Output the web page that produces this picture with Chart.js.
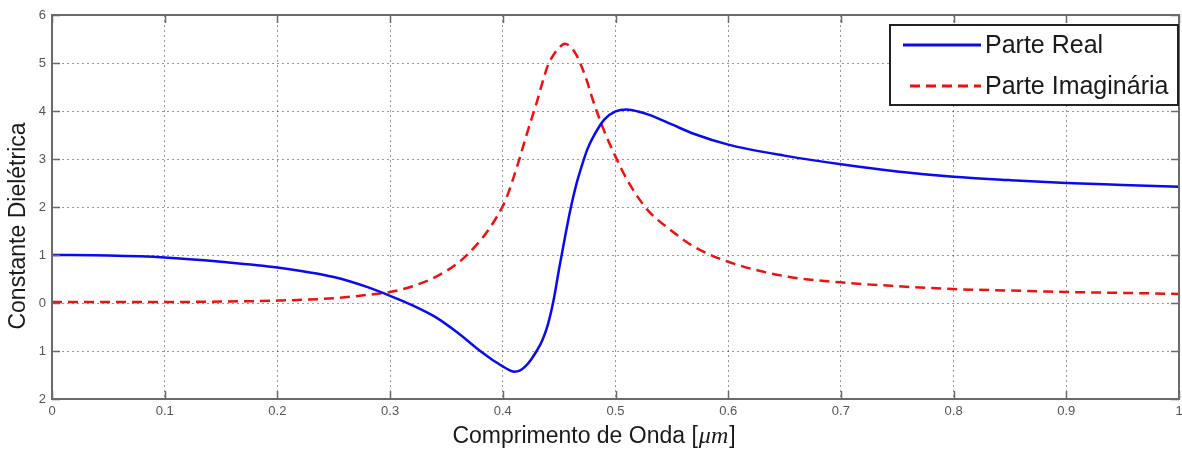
<!DOCTYPE html>
<html>
<head>
<meta charset="utf-8">
<script src="https://cdn.jsdelivr.net/npm/chart.js@4/dist/chart.umd.min.js"></script>
<style>
  html, body { margin: 0; padding: 0; background: #fff; }
  #wrap { width: 1182px; height: 452px; }
</style>
</head>
<body>
<div id="wrap"><canvas id="chart" width="1182" height="452"></canvas></div>
<script>
// wavelength samples (um)
const wavelengths = [0, 0.05, 0.1, 0.15, 0.2, 0.25, 0.28, 0.3, 0.32, 0.34, 0.36, 0.38, 0.39, 0.4, 0.405, 0.41,
  0.415, 0.42, 0.425, 0.43, 0.435, 0.44, 0.445, 0.45, 0.455, 0.46, 0.465, 0.47, 0.475, 0.48, 0.49, 0.5, 0.51,
  0.52, 0.53, 0.55, 0.57, 0.6, 0.65, 0.7, 0.75, 0.8, 0.85, 0.9, 0.95, 1];
const realPart = [1.0, 0.99, 0.95, 0.86, 0.74, 0.54, 0.33, 0.15, -0.05, -0.29, -0.62, -1.0, -1.17, -1.32, -1.39, -1.43,
  -1.41, -1.32, -1.18, -1.0, -0.78, -0.45, 0.05, 0.72, 1.35, 1.95, 2.45, 2.85, 3.2, 3.45, 3.82, 3.99, 4.03,
  3.99, 3.92, 3.72, 3.52, 3.3, 3.07, 2.89, 2.74, 2.63, 2.56, 2.5, 2.46, 2.42];
const imagPart = [0.02, 0.02, 0.02, 0.03, 0.05, 0.1, 0.17, 0.23, 0.35, 0.54, 0.83, 1.3, 1.62, 2.02, 2.3, 2.65,
  3.02, 3.42, 3.8, 4.17, 4.58, 4.95, 5.17, 5.32, 5.4, 5.34, 5.18, 4.92, 4.6, 4.22, 3.58, 3.05, 2.58,
  2.2, 1.9, 1.5, 1.17, 0.86, 0.56, 0.43, 0.35, 0.29, 0.26, 0.23, 0.21, 0.19];

const seriesLabels = ['Parte Real', 'Parte Imaginária'];
const xTitle = ['Comprimento de Onda [', 'μm', ']'];
const yTitle = 'Constante Dielétrica';

const toPoints = (ys) => wavelengths.map((x, i) => ({ x, y: ys[i] }));
const sans = '"Liberation Sans", Arial, sans-serif';

// MATLAB-like box, inner tick marks, axis titles and overlay legend
const matlabFrame = {
  id: 'matlabFrame',
  afterDatasetsDraw(chart) {
    const { ctx, chartArea: a, scales } = chart;
    ctx.save();
    ctx.strokeStyle = '#6b6b6b';
    ctx.lineWidth = 1.5;
    // inner ticks
    scales.x.ticks.forEach(t => {
      const px = Math.round(scales.x.getPixelForValue(t.value)) + 0.5;
      ctx.beginPath();
      ctx.moveTo(px, a.bottom); ctx.lineTo(px, a.bottom - 8);
      ctx.moveTo(px, a.top); ctx.lineTo(px, a.top + 8);
      ctx.stroke();
    });
    scales.y.ticks.forEach(t => {
      const py = Math.round(scales.y.getPixelForValue(t.value)) + 0.5;
      ctx.beginPath();
      ctx.moveTo(a.left, py); ctx.lineTo(a.left + 8, py);
      ctx.moveTo(a.right, py); ctx.lineTo(a.right - 8, py);
      ctx.stroke();
    });
    // box
    ctx.lineWidth = 2;
    ctx.strokeRect(a.left, a.top, a.right - a.left, a.bottom - a.top);

    // axis titles
    ctx.fillStyle = '#1a1a1a';
    ctx.textBaseline = 'middle';
    const fNormal = '23px ' + sans;
    const fItalic = 'italic 24px "Liberation Serif", "DejaVu Serif", serif';
    ctx.font = fNormal;
    const w0 = ctx.measureText(xTitle[0]).width;
    const w2 = ctx.measureText(xTitle[2]).width;
    ctx.font = fItalic;
    const w1 = ctx.measureText(xTitle[1]).width + 2;
    let tx = 594 - (w0 + w1 + w2) / 2;
    const ty = 437;
    ctx.textAlign = 'left';
    ctx.font = fNormal; ctx.fillText(xTitle[0], tx, ty); tx += w0;
    ctx.font = fItalic; ctx.fillText(xTitle[1], tx + 1, ty); tx += w1;
    ctx.font = fNormal; ctx.fillText(xTitle[2], tx, ty);

    ctx.save();
    ctx.translate(19, 226);
    ctx.rotate(-Math.PI / 2);
    ctx.textAlign = 'center';
    ctx.font = fNormal;
    ctx.fillText(yTitle, 0, 0);
    ctx.restore();

    // legend box
    const lx = 890, ly = 25, lw = 288, lh = 80;
    ctx.fillStyle = '#fff';
    ctx.fillRect(lx, ly, lw, lh);
    ctx.strokeStyle = '#222';
    ctx.lineWidth = 2;
    ctx.strokeRect(lx, ly, lw, lh);
    ctx.font = '25px ' + sans;
    ctx.textAlign = 'left';
    chart.data.datasets.forEach((ds, i) => {
      const y = ly + 20 + i * 41;
      ctx.strokeStyle = ds.borderColor;
      ctx.lineWidth = 3;
      ctx.setLineDash(ds.borderDash || []);
      ctx.beginPath();
      ctx.moveTo(lx + (i ? 20 : 13), y); ctx.lineTo(lx + 91, y);
      ctx.stroke();
      ctx.setLineDash([]);
      ctx.fillStyle = '#1a1a1a';
      ctx.fillText(ds.label, lx + 95, y + 1);
    });
    ctx.restore();
  }
};

new Chart(document.getElementById('chart'), {
  type: 'line',
  data: {
    datasets: [
      {
        label: seriesLabels[0],
        data: toPoints(realPart),
        borderColor: '#0a0af0',
        borderWidth: 2.5,
        pointRadius: 0,
        cubicInterpolationMode: 'monotone',
        fill: false
      },
      {
        label: seriesLabels[1],
        data: toPoints(imagPart),
        borderColor: '#f01010',
        borderWidth: 2.5,
        borderDash: [10, 6],
        pointRadius: 0,
        cubicInterpolationMode: 'monotone',
        fill: false
      }
    ]
  },
  options: {
    responsive: false,
    animation: false,
    layout: { padding: { top: 15, right: 3, left: 0, bottom: 0 } },
    plugins: {
      legend: { display: false },
      tooltip: { enabled: false }
    },
    scales: {
      x: {
        type: 'linear',
        min: 0,
        max: 1,
        afterFit: (s) => { s.height = 53; s.paddingLeft = 0; s.paddingRight = 0; },
        ticks: {
          stepSize: 0.1,
          padding: 5,
          color: '#555',
          font: { family: sans, size: 13 },
          callback: (v) => String(Number(v.toFixed(1)))
        },
        grid: {
          drawTicks: false,
          color: 'rgba(0,0,0,0.4)',
          lineWidth: 1
        },
        border: { display: false, dash: [2, 3] }
      },
      y: {
        min: -2,
        max: 6,
        afterFit: (s) => { s.width = 52; },
        ticks: {
          stepSize: 1,
          padding: 6,
          color: '#555',
          font: { family: sans, size: 13 },
          callback: (v) => String(Math.abs(v))
        },
        grid: {
          drawTicks: false,
          color: 'rgba(0,0,0,0.4)',
          lineWidth: 1
        },
        border: { display: false, dash: [2, 3] }
      }
    }
  },
  plugins: [matlabFrame]
});
</script>
</body>
</html>
